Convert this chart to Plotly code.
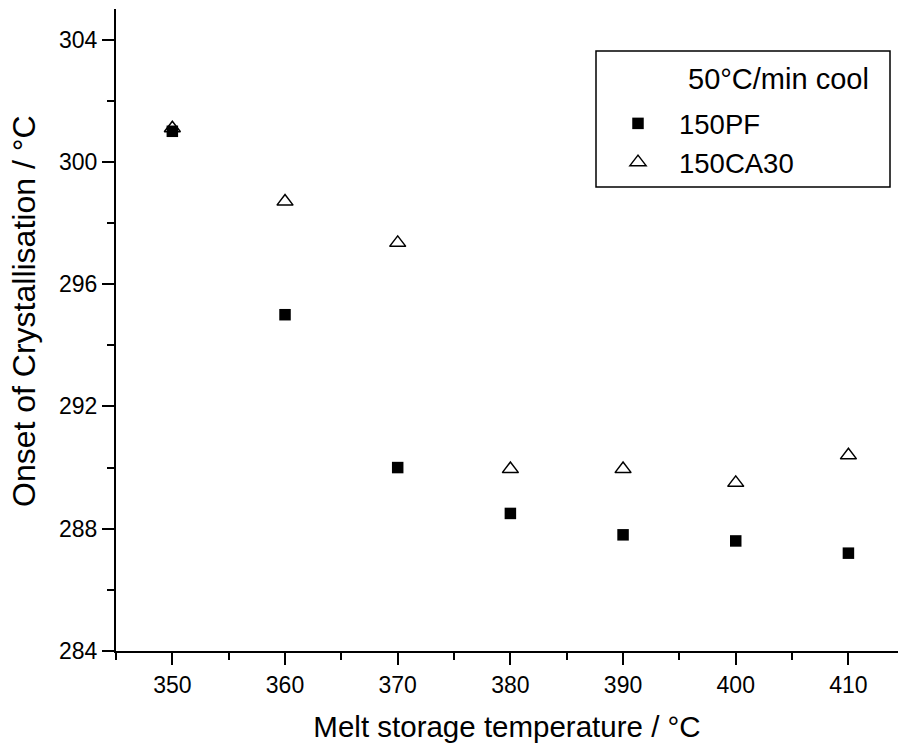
import plotly.graph_objects as go

temps = [350, 360, 370, 380, 390, 400, 410]
pf_150 = [301.0, 295.0, 290.0, 288.5, 287.8, 287.6, 287.2]
ca30_150 = [301.1, 298.7, 297.35, 289.95, 289.95, 289.5, 290.4]

x_ticks = [350, 360, 370, 380, 390, 400, 410]
y_ticks = [284, 288, 292, 296, 300, 304]

FONT = "Arial, 'Liberation Sans', sans-serif"

# plot area in pixels (for placing the decorative legend box and titles)
L, R, T, B = 116, 898, 9, 651
W, H = R - L, B - T


def px(xp):
    return (xp - L) / W


def py(yp):
    return 1 - (yp - T) / H


fig = go.Figure()
fig.add_trace(go.Scatter(
    x=temps, y=pf_150, mode="markers", name="150PF",
    marker=dict(symbol="square", size=11.5, color="black", line=dict(width=0)),
))
fig.add_trace(go.Scatter(
    x=temps, y=ca30_150, mode="markers", name="150CA30",
    marker=dict(symbol="triangle-up-open", size=14, color="black", line=dict(width=1.5, color="black")),
))

axis_common = dict(
    showgrid=False, zeroline=False, showline=True, linecolor="black", linewidth=2,
    ticks="outside", ticklen=12, tickwidth=2, tickcolor="black",
    tickfont=dict(family=FONT, size=23, color="black"),
    mirror=False,
)

fig.update_layout(
    width=898, height=749,
    margin=dict(l=L, r=898 - R, t=T, b=749 - B),
    paper_bgcolor="white", plot_bgcolor="white",
    font=dict(family=FONT, color="black"),
    xaxis=dict(
        range=[345, 414.4], tickmode="array", tickvals=x_ticks,
        ticktext=[str(v) for v in x_ticks],
        minor=dict(dtick=5, tick0=345, ticks="outside", ticklen=7, tickwidth=2, tickcolor="black"),
        title=dict(text="Melt storage temperature / °C", font=dict(family=FONT, size=29.5, color="black"), standoff=20),
        **axis_common,
    ),
    yaxis=dict(
        range=[284, 305], tickmode="array", tickvals=y_ticks,
        ticktext=[str(v) for v in y_ticks],
        minor=dict(dtick=2, tick0=284, ticks="outside", ticklen=7, tickwidth=2, tickcolor="black"),
        **axis_common,
    ),
    showlegend=True,
    legend=dict(
        x=px(597), y=py(99), xanchor="left", yanchor="top",
        bgcolor="rgba(0,0,0,0)", borderwidth=0,
        font=dict(family=FONT, size=27.5, color="black"),
        itemwidth=72,
    ),
    shapes=[dict(
        type="rect", xref="paper", yref="paper",
        x0=px(596), x1=px(890), y0=py(187), y1=py(51),
        line=dict(color="black", width=1.5), fillcolor="rgba(0,0,0,0)", layer="above",
    )],
    annotations=[
        dict(
            text="50°C/min cool", xref="paper", yref="paper",
            x=px(686), y=py(79), xanchor="left", yanchor="middle", showarrow=False,
            font=dict(family=FONT, size=29, color="black"),
        ),
        dict(
            text="Onset of Crystallisation / °C", xref="paper", yref="paper",
            x=px(24), y=py(311), xanchor="center", yanchor="middle", showarrow=False,
            textangle=-90,
            font=dict(family=FONT, size=32, color="black"),
        ),
    ],
)

fig.write_html("out.html")
